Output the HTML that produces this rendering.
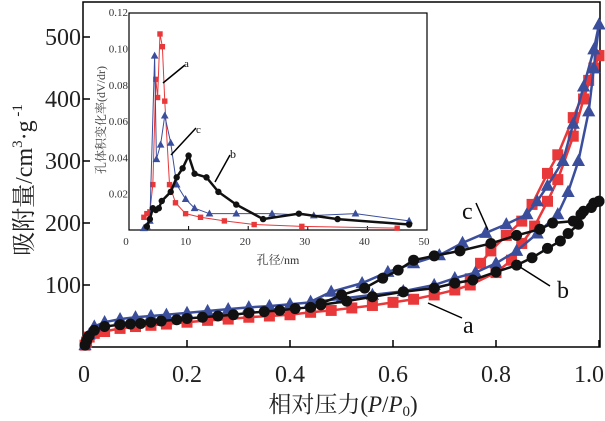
<!DOCTYPE html>
<html><head><meta charset="utf-8"><style>
body{margin:0;background:#fff;}
svg{display:block;font-family:"Liberation Serif","Noto Serif CJK SC",serif;}
</style></head><body>
<svg id="chart" width="605" height="421"></svg>
<script>
// Main isotherm data
const pA_ads=[0.002,0.005,0.01,0.02,0.04,0.07,0.1,0.13,0.16,0.2,0.24,0.28,0.32,0.36,0.4,0.44,0.48,0.52,0.56,0.6,0.64,0.68,0.72,0.75,0.8,0.83,0.85,0.875,0.9,0.92,0.95,0.97,0.99,1.0];
const vA_ads=[3,8,16,22,25,30,33,35,37,40,43,45,48,50,52,56,59,63,67,72,77,84,92,100,120,140,167,195,235,270,340,400,450,470];
const pA_des=[1.0,0.98,0.95,0.92,0.9,0.87,0.85,0.82,0.79,0.77,0.75];
const vA_des=[470,430,370,310,280,230,203,180,155,135,110];
const pC_ads=[0.002,0.01,0.02,0.04,0.07,0.1,0.13,0.16,0.2,0.24,0.28,0.32,0.36,0.4,0.44,0.5,0.56,0.62,0.68,0.72,0.76,0.8,0.84,0.88,0.92,0.94,0.96,0.98,0.99,1.0];
const vC_ads=[3,20,33,40,45,48,50,52,55,58,61,64,66,69,72,78,84,90,100,111,120,135,155,183,214,250,300,380,450,520];
const pC_des=[1.0,0.99,0.97,0.95,0.93,0.9,0.88,0.86,0.82,0.78,0.735,0.69,0.64,0.59,0.54,0.48,0.44];
const vC_des=[520,480,420,360,300,260,235,214,198,184,168,148,135,121,103,89,73];
const pB_ads=[0.002,0.005,0.01,0.02,0.04,0.07,0.09,0.11,0.13,0.15,0.18,0.2,0.23,0.26,0.29,0.32,0.35,0.38,0.41,0.44,0.46,0.51,0.56,0.62,0.68,0.72,0.755,0.8,0.84,0.87,0.9,0.925,0.94,0.96,0.97,0.99,1.0];
const vB_ads=[3,10,18,27,33,36,37,38,40,42,44,46,48,50,52,55,57,59,62,64,68,74,81,89,95,103,108,121,132,144,159,171,183,198,219,232,235];
const pB_des=[1.0,0.985,0.965,0.95,0.91,0.885,0.84,0.79,0.73,0.68,0.64,0.61,0.58,0.545,0.5,0.46];
const vB_des=[235,225,214,203,200,190,180,167,155,147,140,124,111,95,84,70];
const xTicks=[0,0.2,0.4,0.6,0.8,1.0];
const xTickLabels=["0","0.2","0.4","0.6","0.8","1.0"];
const yTicks=[100,200,300,400,500];
// Inset data
const dA=[2.5,3,3.5,4,4.5,4.8,5.2,5.6,6,6.8,7.8,9.5,12,16,21,29,45];
const fA=[0.007,0.009,0.01,0.025,0.083,0.073,0.108,0.101,0.071,0.025,0.015,0.009,0.007,0.005,0.003,0.002,0.001];
const dC=[2.5,3,3.5,4.3,4.6,5.3,6,7,8,9.5,11,13.5,18,24,31,38,47];
const fC=[0.001,0.002,0.005,0.096,0.039,0.047,0.063,0.048,0.025,0.017,0.012,0.009,0.009,0.009,0.008,0.009,0.005];
const dB=[3,3.5,4,4.5,5,5.5,7,8,9,10,11,13,15,18,22.5,28.5,35,47];
const fB=[0.002,0.006,0.012,0.011,0.012,0.016,0.021,0.029,0.034,0.041,0.031,0.029,0.021,0.014,0.006,0.009,0.006,0.003];
const ixTicks=[0,10,20,30,40,50];
const iyTicks=[0.02,0.04,0.06,0.08,0.10,0.12];
const iyTickLabels=["0.02","0.04","0.06","0.08","0.10","0.12"];

const NS="http://www.w3.org/2000/svg";
const svg=document.getElementById('chart');
function el(t,a,p){const e=document.createElementNS(NS,t);for(const k in a)e.setAttribute(k,a[k]);(p||svg).appendChild(e);return e;}
const X=v=>84+v*515, Y=v=>347-v*0.62;
const IX=v=>129+v*5.96, IY=v=>230-v*1815;

let fr=el('rect',{x:83,y:2,width:517,height:345,fill:'none',stroke:'#000','stroke-width':1.5});


xTicks.forEach((t,i)=>{
  let l=el('line',{x1:X(t),x2:X(t),y1:347,y2:340,stroke:'#000','stroke-width':1.5});
  
  
  let tx=el('text',{x:i===5?604:X(t),y:382,'font-size':24,'text-anchor':i===5?'end':'middle',fill:'#222'});tx.textContent=xTickLabels[i];
  
  
});
yTicks.forEach(t=>{
  let l=el('line',{x1:83,x2:90,y1:Y(t),y2:Y(t),stroke:'#000','stroke-width':1.5});
  
  
  let tx=el('text',{x:81,y:Y(t)+8,'font-size':24,'text-anchor':'end',fill:'#222'});tx.textContent=t;
  
  
});
let xt=el('text',{x:343,y:412,'font-size':23,'text-anchor':'middle',fill:'#222'});
xt.innerHTML='相对压力(<tspan font-style="italic">P</tspan>/<tspan font-style="italic">P</tspan><tspan font-size="15" dy="4">0</tspan><tspan dy="-4">)</tspan>';


let yt=el('text',{transform:'translate(32,180) rotate(-90)','font-size':24,'text-anchor':'middle',fill:'#222'});
yt.innerHTML='吸附量/cm<tspan font-size="15" dy="-10">3</tspan><tspan dy="10">·g</tspan><tspan font-size="15" dy="-10"> -1</tspan>';



function marker(type,x,y,c,s,parent,name){
  let m;
  if(type==='sq') m=el('rect',{x:x-s,y:y-s,width:2*s,height:2*s,fill:c},parent);
  else if(type==='ci') m=el('circle',{cx:x,cy:y,r:s,fill:c},parent);
  else m=el('polygon',{points:`${x},${y-s*1.3} ${x-s*1.2},${y+s*0.9} ${x+s*1.2},${y+s*0.9}`,fill:c},parent);
  
  
}
function series(xs,ys,fx,fy,c,w,type,s,name){
  const g=el('g',{});
  
  
  let p=el('polyline',{points:xs.map((v,i)=>fx(v)+','+fy(ys[i])).join(' '),fill:'none',stroke:c,'stroke-width':w},g);
  
  
  xs.forEach((v,i)=>marker(type,fx(v),fy(ys[i]),c,s,g,name+'-point'));
}
const RED='#e8383a',BLK='#111',BLU='#3a4e9c';
series(pA_ads,vA_ads,X,Y,RED,2.5,'sq',5.5,'series-a-adsorption');
series(pA_des,vA_des,X,Y,RED,2.5,'sq',5.5,'series-a-desorption');
series(pC_ads,vC_ads,X,Y,BLU,2.5,'tr',5.5,'series-c-adsorption');
series(pC_des,vC_des,X,Y,BLU,2.5,'tr',5.5,'series-c-desorption');
series(pB_ads,vB_ads,X,Y,BLK,2.5,'ci',5.5,'series-b-adsorption');
series(pB_des,vB_des,X,Y,BLK,2.5,'ci',5.5,'series-b-desorption');

function ann(x1,y1,x2,y2,tx,ty,t,fs,name){
  let l=el('line',{x1,y1,x2,y2,stroke:'#000','stroke-width':1.5});
  
  
  let tt=el('text',{x:tx,y:ty,'font-size':fs,fill:'#111'});tt.textContent=t;
  
  
}
ann(428,303,462,318,463,333,'a',24,'label-a');
ann(520,267,550,286,557,298,'b',24,'label-b');
ann(476,203,488,230,462,219,'c',24,'label-c');

// inset
let ib=el('rect',{x:129,y:13,width:298,height:217,fill:'#fff',stroke:'#000','stroke-width':1.2});


ixTicks.forEach(t=>{
  let l=el('line',{x1:IX(t),x2:IX(t),y1:230,y2:226,stroke:'#000'});
  
  
  let tx=el('text',{x:IX(t)-3,y:245,'font-size':11,'text-anchor':'middle',fill:'#333'});tx.textContent=t;
  
  
});
iyTicks.forEach((t,i)=>{
  let tx=el('text',{x:128,y:IY(t)+4,'font-size':11,'text-anchor':'end',fill:'#333'});tx.textContent=iyTickLabels[i];
  
  
});
let ixt=el('text',{x:278,y:264,'font-size':12,'text-anchor':'middle',fill:'#333'});ixt.textContent='孔径/nm';


let iyt=el('text',{transform:'translate(105,120) rotate(-90)','font-size':12,'text-anchor':'middle',fill:'#444'});iyt.textContent='孔体积变化率(dV/dr)';


series(dA,fA,IX,IY,RED,1,'sq',2.7,'inset-series-a');
series(dC,fC,IX,IY,BLU,1,'tr',3.2,'inset-series-c');
series(dB,fB,IX,IY,BLK,2.5,'ci',3.2,'inset-series-b');
ann(163,83,185,65,184,67,'a',11,'inset-label-a');
ann(171,155,196,128,196,133,'c',11,'inset-label-c');
ann(215,182,230,155,230,158,'b',12,'inset-label-b');
</script>
</body></html>
